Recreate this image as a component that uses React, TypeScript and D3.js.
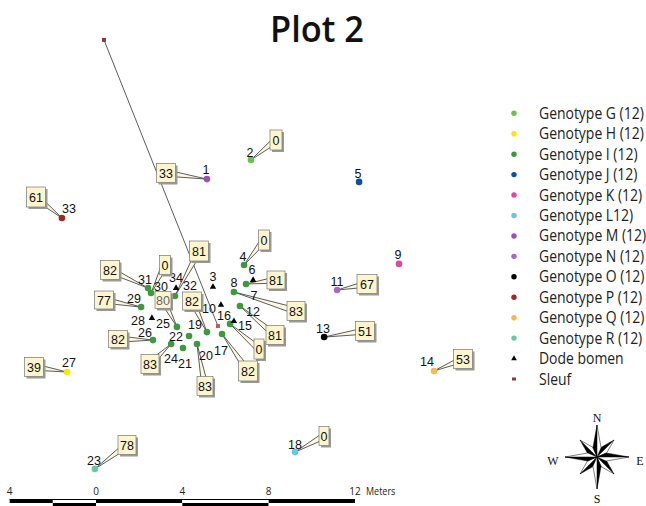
import React from "react";
import * as d3 from "d3";

const title = "Plot 2";
const genotypes = ["Genotype G (12)","Genotype H (12)","Genotype I (12)","Genotype J (12)","Genotype K (12)","Genotype L12)","Genotype M  (12)","Genotype N (12)","Genotype O (12)","Genotype P (12)","Genotype Q (12)","Genotype R (12)"];
const genotypeColors = ["#6cc24a","#ffe500","#3b9a3b","#0a4fb0","#e0479e","#62c8ee","#9a52b3","#a868c0","#000000","#a0281e","#fbb94a","#68c9a0"];

// trees: id, genotype index, east (m), north (m)
const trees: [number, number, number, number][] = [
  [1,6,5.14,13.48],[2,0,7.18,14.37],[4,2,6.86,9.5],[5,3,12.19,13.35],[6,2,6.95,8.62],[8,2,6.39,8.25],
  [9,4,14.04,9.55],[11,7,11.17,8.34],[12,2,6.67,7.6],[13,8,10.57,6.16],[14,10,15.66,4.59],[15,2,6.21,6.77],
  [17,2,5.84,6.3],[18,5,9.22,0.83],[19,2,5.14,6.39],[20,2,4.68,5.84],[21,2,4.03,5.65],[22,2,4.31,6.21],
  [23,11,-0.05,0.05],[24,2,3.48,5.84],[25,2,3.75,6.63],[26,2,2.64,6.02],[27,1,-1.34,4.54],[29,2,2.09,7.55],
  [30,2,2.55,8.2],[31,2,2.41,8.43],[32,2,3.66,8.06],[33,9,-1.58,11.68],
];
const deadTrees: [number, number, number][] = [[3,5.42,8.48],[7,7.28,8.8],[10,5.79,7.65],[16,6.39,6.9],[28,2.59,7.04],[34,3.71,8.43]];
const trench: [number, number][] = [[0.37,19.93],[5.65,6.67]];

// callout: tree id, value
const callouts: [number, number][] = [
  [1,33],[2,0],[4,0],[6,81],[8,83],[11,67],[12,81],[13,51],[14,53],[15,0],[17,82],[18,0],[19,82],[20,83],
  [23,78],[24,83],[25,80],[26,82],[27,39],[29,77],[30,0],[31,82],[32,81],[33,61],
];
const scaleTicks = [-4,0,4,8,12];

// annotation layout (page pixels)
const labelAt: Record<number,[number,number]> = {
  1:[206,169],2:[250,152],3:[213,276],4:[243,256],5:[358,173],6:[252,269],7:[254,295],8:[234,282],9:[398,254],
  10:[209,308],11:[337,281],12:[253,311],13:[323,328],14:[427,361],15:[245,325],16:[224,315],17:[221,350],18:[295,444],
  19:[195,324],20:[206,355],21:[185,363],22:[176,336],23:[94,460],24:[171,358],25:[163,323],26:[145,332],27:[69,362],
  28:[138,320],29:[134,298],30:[161,286],31:[145,279],32:[190,285],33:[69,208],34:[176,277],
};
const boxAt: Record<number,[number,number,number,number]> = {
  1:[166,173,19,19],33:[36,197,19,20],31:[110,270,19,19],30:[165,265,11,19],32:[199,251,19,20],25:[163,300,16,17],
  29:[104,300,19,18],26:[118,339,19,17],24:[150,364,18,19],20:[205,386,16,19],19:[192,301,19,18],17:[248,371,19,20],
  15:[259,349,10,20],12:[275,335,18,19],8:[296,311,18,19],6:[276,280,18,18],4:[264,240,11,20],2:[276,140,12,20],
  11:[367,284,20,19],13:[365,331,19,19],14:[463,359,19,19],23:[127,445,18,19],18:[324,436,10,19],27:[34,367,19,19],
};

const x = d3.scaleLinear().domain([0,12]).range([96,355]);
const y = d3.scaleLinear().domain([0,20]).range([470,38.4]);
const legendY = d3.scaleLinear().domain([0,13]).range([113.3,379]);
const fontMap = "'Liberation Sans', Arial, sans-serif";
const fontLegend = "'Open Sans', sans-serif";

const star = d3.lineRadial<[number,number]>().angle(d=>d[0]).radius(d=>d[1]);
const deg = Math.PI/180;
function Compass({cx,cy}:{cx:number;cy:number}) {
  const pts: React.ReactNode[] = [];
  const add = (a:number,long:number,spread:number,wide:number,key:string,w:number) => {
    const left: [number,number][] = [[0,0],[(a)*deg,long],[(a-spread)*deg,wide]];
    const right: [number,number][] = [[0,0],[(a)*deg,long],[(a+spread)*deg,wide]];
    pts.push(<path key={key+"l"} d={star(left)+"Z"} fill="#000" stroke="#000" strokeWidth={w}/>);
    pts.push(<path key={key+"r"} d={star(right)+"Z"} fill="#fff" stroke="#000" strokeWidth={w}/>);
  };
  [45,135,225,315].forEach(a=>add(a,24,24,10,"d"+a,0.5));
  [0,90,180,270].forEach(a=>add(a,32,24,10,"c"+a,0.5));
  return <g transform={`translate(${cx},${cy})`}>{pts}</g>;
}

export default function App() {
  const byId = new Map(trees.map(t=>[t[0],t]));
  const bar = scaleTicks.slice(0,-1).flatMap((t,i)=> {
    const next = scaleTicks[i+1];
    if (i===0) return [[t,-2,1],[-2,0,0]] as [number,number,number][];
    return [[t,next,i%2]] as [number,number,number][];
  });
  const condensed = (s:string,tx:number,ty:number,size:number,k:number,fill="#222") =>
    <text key={s+tx+ty} transform={`translate(${tx},${ty}) scale(${k},1)`} fontFamily={fontLegend} fontSize={size} fill={fill}>{s}</text>;
  return (
    <svg width={646} height={506} style={{position:"fixed",left:0,top:0,background:"#fff"}}>
      <text transform="translate(317,42) scale(0.93,1)" textAnchor="middle" fontFamily={fontLegend} fontSize={37} fontWeight={600} fill="#111">{title}</text>

      <path d={d3.line()(trench.map(p=>[x(p[0]),y(p[1])]))!} fill="none" stroke="#333" strokeWidth={0.8}/>

      {callouts.map(([id])=>{
        const t = byId.get(id)!; const px=x(t[2]), py=y(t[3]);
        const [bx,by] = boxAt[id];
        const dx=bx-px, dy=by-py, len=Math.hypot(dx,dy);
        const nx=-dy/len*3.2, ny=dx/len*3.2;
        return <path key={"w"+id} d={`M${px},${py}L${bx+nx},${by+ny}L${bx-nx},${by-ny}Z`} fill="#fbf7e2" stroke="#333" strokeWidth={0.8}/>;
      })}

      {trench.map((p,i)=> <rect key={i} x={x(p[0])-2} y={y(p[1])-2} width={4} height={4} fill={i===0?"#8c3a3a":"#b5615a"}/>)}

      {trees.map(t=><circle key={t[0]} cx={x(t[2])} cy={y(t[3])} r={3.3} fill={genotypeColors[t[1]]}/>)}
      {deadTrees.map(t=><path key={t[0]} transform={`translate(${x(t[1])},${y(t[2])})`} d={d3.symbol(d3.symbolTriangle,18)()!} fill="#000"/>)}

      {Object.entries(labelAt).map(([id,p])=>
        <text key={id} x={p[0]} y={p[1]+4.5} textAnchor="middle" fontFamily={fontMap} fontSize={12.5} fill="#111">{id}</text>)}

      {callouts.map(([id,v])=>{
        const [bx,by,w,h] = boxAt[id];
        return <g key={"b"+id}>
          <rect x={bx-w/2+2} y={by-h/2+2} width={w} height={h} fill="#9a9a9a"/>
          <rect x={bx-w/2} y={by-h/2} width={w} height={h} fill="#fdf5cd" stroke="#777" strokeWidth={0.7}/>
          <text x={bx} y={by+4.5} textAnchor="middle" fontFamily={fontMap} fontSize={12.5} fill={id===25?"#666":"#111"}>{v}</text>
        </g>;
      })}

      {genotypes.map((g,i)=><g key={g}>
        <circle cx={514} cy={legendY(i)} r={2.7} fill={genotypeColors[i]}/>
        {condensed(g,539,legendY(i)+5.5,15.5,0.9)}
      </g>)}
      <path transform={`translate(514,${legendY(12)})`} d={d3.symbol(d3.symbolTriangle,14)()!} fill="#000"/>
      {condensed("Dode bomen",539,legendY(12)+5.5,15.5,0.9)}
      <rect x={512} y={legendY(13)-1.5} width={4} height={3} fill="#8c3a3a"/>
      {condensed("Sleuf",539,legendY(13)+5.5,15.5,0.9)}

      {scaleTicks.map(t=><text key={t} x={x(t)} y={495} textAnchor="middle" fontFamily={fontLegend} fontSize={10} fill="#222">{Math.abs(t)}</text>)}
      {condensed("Meters",366,495,10,0.9)}
      {bar.map(([a,b,k],i)=><g key={i}>
        <rect x={x(a)} y={499} width={x(b)-x(a)} height={4} fill={k?"#000":"#fff"}/>
        <rect x={x(a)} y={503} width={x(b)-x(a)} height={3} fill={k?"#fff":"#000"}/>
      </g>)}
      <rect x={x(-4)} y={499} width={x(12)-x(-4)} height={1} fill="#000"/>

      <Compass cx={597} cy={457}/>
      {([["N",597,422],["S",597,503],["W",553,465],["E",640,465]] as [string,number,number][]).map(([s,a,b])=>
        <text key={s} x={a} y={b} textAnchor="middle" fontFamily="'Liberation Serif', serif" fontSize={12} fill="#111">{s}</text>)}
    </svg>
  );
}
